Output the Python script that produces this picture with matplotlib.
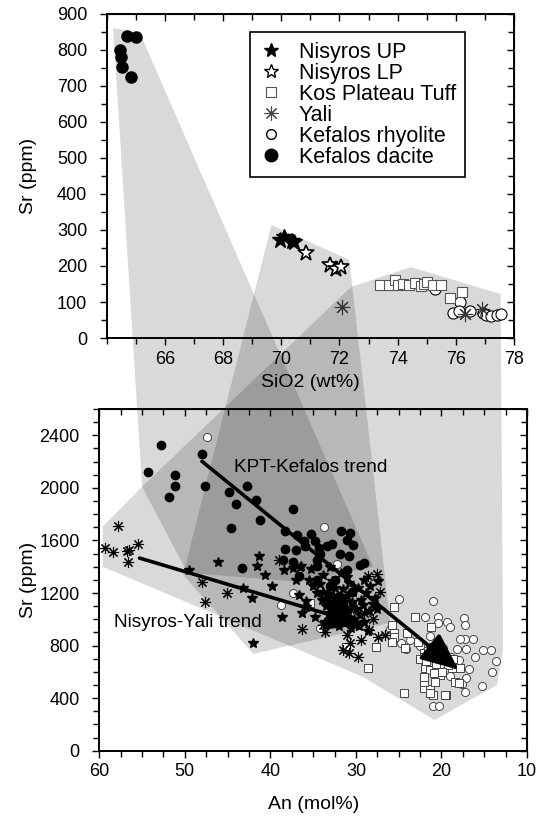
import matplotlib
matplotlib.use("Agg")
import matplotlib.pyplot as plt
from matplotlib.patches import Polygon
from matplotlib.lines import Line2D
from matplotlib.ticker import MultipleLocator

plt.rcParams['font.family'] = ['Liberation Sans', 'DejaVu Sans']

# ---------------- data: top panel (SiO2 wt%, Sr ppm) ----------------
nup_si = [69.94, 70.11, 70.38, 70.45]
nup_sr = [272, 281, 269, 267]
nlp_si = [70.86, 71.68, 71.89, 72.06]
nlp_sr = [236, 203, 192, 197]
kpt_si = [73.4, 73.7, 73.9, 74.0, 74.2, 74.4, 74.6, 74.8, 74.9, 75.0, 75.2, 75.5, 75.8, 76.2]
kpt_sr_top = [148, 146, 162, 146, 150, 148, 152, 145, 150, 155, 148, 148, 110, 127]
yali_si = [72.1, 76.3, 76.9]
yali_sr_top = [87, 68, 80]
krh_si = [75.3, 75.9, 76.15, 76.1, 76.5, 76.95, 77.05, 77.2, 77.4, 77.55]
krh_sr_top = [135, 70, 100, 75, 75, 70, 65, 62, 65, 68]
kda_si = [64.71, 65.01, 64.46, 64.49, 64.53, 64.84]
kda_sr_top = [839, 835, 800, 781, 752, 726]

# ---------------- data: bottom panel (An mol%, Sr ppm) ----------------
kd_an = [52.8, 54.3, 51.2, 51.2, 51.8, 48.0, 47.6, 44.8, 42.7, 44.0, 41.7, 41.2, 44.6,
         37.3, 38.3, 36.9, 36.1, 38.3, 37.0, 43.3, 38.5, 37.4, 36.6, 36.0, 35.2, 34.8,
         34.3, 33.4, 32.8, 34.2, 34.6, 31.7, 30.7, 31.1, 30.4, 31.9, 30.8, 29.5, 29.1,
         31.1, 34.5, 34.6, 33.0, 32.0, 31.5, 30.5, 33.5, 32.5, 31.0]
kd_sr = [2329, 2118, 2100, 2017, 1931, 2261, 2012, 1971, 2012, 1874, 1910, 1758, 1692,
         1841, 1674, 1638, 1592, 1534, 1524, 1390, 1453, 1433, 1326, 1560, 1649, 1592,
         1539, 1554, 1575, 1499, 1453, 1674, 1656, 1605, 1567, 1496, 1478, 1415, 1428,
         1377, 1402, 1301, 1250, 1180, 1120, 1210, 1150, 1300, 1060]

kr_an = [47.4, 33.7, 32.2, 38.8, 37.3, 34.2, 25.0, 21.0, 21.9, 20.4, 24.7, 26.0, 21.3,
         20.4, 19.3, 19.0, 17.4, 17.2, 17.2, 17.8, 16.3, 18.2, 17.1, 16.1, 18.0, 15.2,
         14.2, 13.6, 14.1, 15.3, 17.1, 17.6, 17.2, 19.0, 21.0, 20.3, 18.9, 23.7, 24.1,
         19.8, 16.8, 22.5, 20.0]
kr_sr = [2385, 1702, 1420, 1105, 1199, 933, 1153, 1143, 1021, 1021, 823, 925, 874,
         975, 978, 940, 1009, 958, 851, 849, 851, 773, 773, 716, 691, 767,
         767, 686, 602, 493, 552, 508, 450, 571, 340, 340, 716, 843, 773,
         780, 620, 800, 660]

kpt_an = [25.5, 23.1, 25.8, 25.6, 24.3, 27.6, 28.6, 24.4, 22.8, 22.1, 21.9, 22.1, 21.0,
          19.5, 18.4, 18.8, 21.3, 33.3, 35.4, 31.2, 21.2, 24.0, 25.6, 25.8, 22.1, 21.3,
          19.8, 21.3, 20.2, 17.8, 18.0, 20.8, 22.1, 21.3, 19.6, 22.5, 21.8, 20.6, 19.2,
          18.6, 22.0, 20.9, 19.9, 21.6, 20.4]
kpt_sr = [1090, 1016, 958, 899, 780, 788, 628, 437, 831, 742, 628, 475, 424,
          424, 526, 628, 468, 983, 1123, 788, 940, 894, 869, 831, 716, 792,
          754, 615, 577, 628, 518, 526, 526, 437, 424, 700, 680, 660, 650,
          700, 560, 590, 600, 760, 720]

ya_an = [57.8, 59.3, 58.4, 56.8, 56.5, 55.5, 56.7, 48.0, 47.6, 45.1, 39.0, 36.3, 33.8,
         33.6, 31.5, 30.7, 30.8, 29.7, 29.4, 28.6, 27.5, 27.2, 27.4, 26.6, 31.0, 30.0,
         32.5, 29.0, 28.5, 30.5, 31.8, 33.0, 28.0]
ya_sr = [1707, 1542, 1512, 1516, 1530, 1573, 1436, 1285, 1135, 1199, 1453, 925, 958,
         907, 767, 818, 742, 716, 843, 1331, 1346, 1211, 869, 881, 880, 960,
         1000, 1050, 920, 1100, 1150, 1180, 1000]

ns_an = [49.5, 46.1, 43.2, 42.1, 41.6, 41.3, 40.6, 39.8, 38.6, 37.4, 36.4, 36.6, 42.0,
         36.3, 35.8, 38.4, 37.0,
         35.5, 35.0, 34.5, 34.0, 33.5, 33.0, 32.5, 32.0, 31.5, 31.0, 30.5, 30.0, 29.5,
         29.0, 28.5, 28.0, 27.5, 33.8, 32.8, 31.8, 30.8, 29.8, 28.8, 27.8, 34.8, 33.6,
         32.2, 31.2, 30.2, 29.2, 35.8, 34.2, 33.2, 32.4, 31.4, 30.4, 29.4, 28.4, 27.4,
         36.5, 35.2, 33.0, 31.6, 30.6, 29.6, 28.6, 32.6, 33.9, 31.0, 29.0]
ns_sr = [1377, 1433, 1237, 1161, 1407, 1483, 1339, 1250, 1021, 1394, 1402, 1186, 818,
         1047, 1097, 1377, 1300,
         1300, 1250, 1200, 1150, 1100, 1050, 1000, 950, 1230, 1180, 1130, 1080, 1030,
         980, 1060, 1120, 1080, 1340, 1290, 1350, 1280, 1240, 1200, 1160, 1020, 980,
         1120, 1060, 1000, 1110, 1140, 1270, 1190, 1240, 1130, 1210, 1150, 1250, 1290,
         1400, 1380, 1400, 1010, 930, 950, 910, 1160, 1210, 1320, 1300]

# trend arrows (An, Sr): start -> end
kpt_trend_an = [48.0, 18.0]
kpt_trend_sr = [2202, 615]
nys_trend_an = [55.3, 29.1]
nys_trend_sr = [1466, 958]

# field polygons linking the two panels: top-panel vertices (SiO2, Sr) + bottom-panel vertices (An, Sr)
kda_field_top = [(64.22, 861), (65.14, 847)]
kda_field_bot = [(28.0, 1400), (36.5, 1285), (49.7, 1354), (55.0, 2009)]
nis_field_top = [(69.66, 314), (72.34, 217)]
nis_field_bot = [(26.0, 973), (42.0, 737), (50.2, 1339)]
rhy_field_top = [(72.40, 142), (74.46, 197), (77.54, 122)]
rhy_field_bot = [(12.8, 767), (13.5, 500), (20.8, 234), (29.2, 562), (59.6, 1400),
                 (59.6, 1705), (55.0, 2009)]

legend_labels = ['Nisyros UP', 'Nisyros LP', 'Kos Plateau Tuff', 'Yali',
                 'Kefalos rhyolite', 'Kefalos dacite']

# ---------------- figure ----------------
fig = plt.figure(figsize=(5.37, 8.21), dpi=100)
ax1 = fig.add_axes([0.1987, 0.5883, 0.7585, 0.3947])
ax2 = fig.add_axes([0.1849, 0.0856, 0.7965, 0.4162])
for ax in (ax1, ax2):
    ax.set_facecolor('none')
    for s in ax.spines.values():
        s.set_linewidth(1.4)

ax1.set_xlim(64, 78)
ax1.set_ylim(0, 900)
ax2.set_xlim(60, 10)
ax2.set_ylim(0, 2600)

ASTER = (8, 2, 0)

# top panel markers
ax1.plot(kda_si, kda_sr_top, 'o', ms=8, mfc='black', mec='black', zorder=3)
ax1.plot(nup_si, nup_sr, '*', ms=12, mfc='black', mec='black', zorder=3)
ax1.plot(nlp_si, nlp_sr, '*', ms=12, mfc='white', mec='black', mew=1.2, zorder=3)
ax1.plot(krh_si, krh_sr_top, 'o', ms=8, mfc='white', mec='black', mew=0.8, zorder=3)
ax1.plot(kpt_si, kpt_sr_top, 's', ms=7.5, mfc='white', mec='#555555', mew=0.8, zorder=3)
ax1.plot(yali_si, yali_sr_top, marker=ASTER, ls='none', ms=11, mec='#333333', mew=0.8, zorder=4)

# bottom panel markers
ax2.plot(kr_an, kr_sr, 'o', ms=5.8, mfc='white', mec='#444444', mew=0.7, zorder=3)
ax2.plot(kpt_an, kpt_sr, 's', ms=5.5, mfc='white', mec='#444444', mew=0.7, zorder=3)
ax2.plot(kd_an, kd_sr, 'o', ms=6, mfc='black', mec='black', zorder=4)
ax2.plot(ya_an, ya_sr, marker=ASTER, ls='none', ms=8, mec='black', mew=0.8, zorder=4)
ax2.plot(ns_an, ns_sr, '*', ms=7, mfc='black', mec='black', zorder=4)

# trend arrows
for xs, ys in ((kpt_trend_an, kpt_trend_sr), (nys_trend_an, nys_trend_sr)):
    ax2.annotate('', xy=(xs[1], ys[1]), xytext=(xs[0], ys[0]),
                 arrowprops=dict(arrowstyle='-|>,head_length=1.15,head_width=0.5',
                                 lw=2.6, color='black', mutation_scale=20,
                                 shrinkA=0, shrinkB=0), zorder=5)
ax2.text(44.3, 2154, 'KPT-Kefalos trend', fontsize=13.7, va='center', ha='left', zorder=6)
ax2.text(58.3, 973, 'Nisyros-Yali trend', fontsize=13.7, va='center', ha='left', zorder=6)

# ticks
ax1.xaxis.set_major_locator(MultipleLocator(2))
ax1.xaxis.set_minor_locator(MultipleLocator(1))
ax1.yaxis.set_major_locator(MultipleLocator(100))
ax1.yaxis.set_minor_locator(MultipleLocator(50))
ax2.xaxis.set_major_locator(MultipleLocator(10))
ax2.xaxis.set_minor_locator(MultipleLocator(2.5))
ax2.yaxis.set_major_locator(MultipleLocator(400))
ax2.yaxis.set_minor_locator(MultipleLocator(100))

ax1.set_xticks([66, 68, 70, 72, 74, 76, 78])
for ax in (ax1, ax2):
    ax.tick_params(which='both', direction='out', top=False, right=False,
                   labelsize=13, width=1.0)
    ax.tick_params(axis='x', pad=4)
    ax.tick_params(axis='y', pad=9)
    ax.tick_params(which='major', length=5)
    ax.tick_params(which='minor', length=4)
    secx = ax.secondary_xaxis('top')
    secx.set_xticks(ax.get_xticks())
    secx.xaxis.set_minor_locator(ax.xaxis.get_minor_locator())
    secx.tick_params(which='both', direction='in', labeltop=False, width=1.0)
    secx.tick_params(which='major', length=5)
    secx.tick_params(which='minor', length=4)
    secy = ax.secondary_yaxis('right')
    secy.set_yticks(ax.get_yticks())
    secy.yaxis.set_minor_locator(ax.yaxis.get_minor_locator())
    secy.tick_params(which='both', direction='in', labelright=False, width=1.0)
    secy.tick_params(which='major', length=5)
    secy.tick_params(which='minor', length=4)
ax1.set_xlim(64, 78)
ax2.set_xlim(60, 10)
ax2.set_ylim(0, 2600)
ax1.set_ylim(0, 900)

ax1.set_xlabel('SiO2 (wt%)', fontsize=14, labelpad=5)
ax1.set_ylabel('Sr (ppm)', fontsize=14, labelpad=14)
ax2.set_xlabel('An (mol%)', fontsize=14, labelpad=11)
ax2.set_ylabel('Sr (ppm)', fontsize=14, labelpad=2)

# legend
handles = [
    Line2D([], [], ls='none', marker='*', ms=10, mfc='black', mec='black'),
    Line2D([], [], ls='none', marker='*', ms=10, mfc='white', mec='black', mew=1.0),
    Line2D([], [], ls='none', marker='s', ms=7, mfc='white', mec='#555555', mew=0.8),
    Line2D([], [], ls='none', marker=ASTER, ms=10, mec='#444444', mew=0.8),
    Line2D([], [], ls='none', marker='o', ms=7, mfc='white', mec='black', mew=1.0),
    Line2D([], [], ls='none', marker='o', ms=9, mfc='black', mec='black'),
]
leg = ax1.legend(handles, legend_labels, loc='upper left', bbox_to_anchor=(0.352, 0.944),
                 borderaxespad=0, fontsize=15.5, frameon=True, fancybox=False,
                 edgecolor='black', framealpha=1, handlelength=1.0, handletextpad=0.8,
                 labelspacing=0.0, borderpad=0.45)
leg.get_frame().set_linewidth(1.2)
leg.set_zorder(10)

# field polygons spanning both panels
def add_field(top_pts, bot_pts):
    disp = [ax1.transData.transform(p) for p in top_pts] + \
           [ax2.transData.transform(p) for p in bot_pts]
    pts = fig.transFigure.inverted().transform(disp)
    poly = Polygon(pts, closed=True, transform=fig.transFigure, facecolor='black',
                   alpha=0.15, edgecolor='none', zorder=-1)
    fig.add_artist(poly)

add_field(kda_field_top, kda_field_bot)
add_field(nis_field_top, nis_field_bot)
add_field(rhy_field_top, rhy_field_bot)

fig.savefig('out.png', dpi=100)
